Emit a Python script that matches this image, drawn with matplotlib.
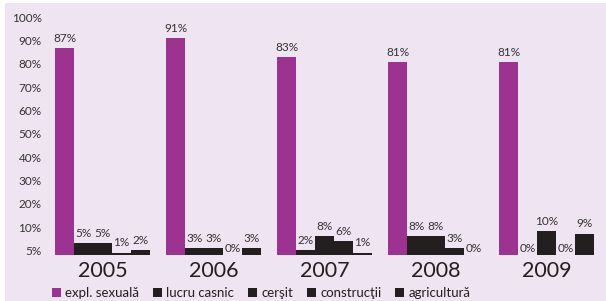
import numpy as np
import matplotlib
matplotlib.use('Agg')
import matplotlib.pyplot as plt
from matplotlib.patches import Patch, Rectangle

# data
years = ['2005', '2006', '2007', '2008', '2009']
categories = ['expl. sexuală', 'lucru casnic', 'cerşit', 'construcţii', 'agricultură']
expl_sexuala = [87, 91, 83, 81, 81]
lucru_casnic = [5, 3, 2, 8, 0]
cersit = [5, 3, 8, 8, 10]
constructii = [1, 0, 6, 3, 0]
agricultura = [2, 3, 1, 0, 9]
series = [expl_sexuala, lucru_casnic, cersit, constructii, agricultura]
ytick_labels = ['5%', '10%', '20%', '30%', '40%', '50%', '60%', '70%', '80%', '90%', '100%']

bg = '#EFE4F2'
purple = '#9C3391'
black = '#231F20'
txt = '#333333'
colors = [purple, black, black, black, black]

plt.rcParams['font.family'] = ['Lato', 'DejaVu Sans']
narrow = ['Liberation Sans Narrow', 'Lato', 'DejaVu Sans']

W, H = 606, 301
fig = plt.figure(figsize=(W / 100, H / 100), dpi=100)
fig.patch.set_facecolor('white')
fig.patches.append(Rectangle((5 / W, 0), 1, (H - 3) / H, transform=fig.transFigure,
                             facecolor=bg, edgecolor='none', zorder=-10))

ax = fig.add_axes([50 / W, (H - 255) / H, 550 / W, (255 - 17) / H])
ax.set_facecolor(bg)
for s in ax.spines.values():
    s.set_visible(False)

w = 0.171
x = np.arange(len(years))
for j, vals in enumerate(series):
    xs = x + (j - 2) * w
    ax.bar(xs, vals, width=w, color=colors[j], linewidth=0)
    for xi, vi in zip(xs, vals):
        off = 0.5 if vi == 0 else 3
        ax.annotate(f'{vi}%', (xi, vi), xytext=(0, off), textcoords='offset points',
                    ha='center', va='bottom', fontsize=8.5, color=txt, family=narrow)

ax.set_ylim(0, 100)
ax.set_xlim(-0.473, 4.482)
# the original spaces its labels evenly from the bottom ("5%") up to 100%
ax.set_yticks(np.linspace(1.8, 100, len(ytick_labels)))
ax.set_yticklabels(ytick_labels)
ax.set_xticks(x)
ax.set_xticklabels(years)
ax.tick_params(axis='y', length=0, pad=6, labelsize=8.5, labelcolor=txt)
ax.tick_params(axis='x', length=0, pad=4, labelsize=15.5, labelcolor='#231F20')

handles = [Patch(facecolor=c, edgecolor='none') for c in colors]
fig.legend(handles, categories, loc='center left', bbox_to_anchor=(52 / W, 8 / H),
           ncol=5, frameon=False, fontsize=9.5, handlelength=0.7, handleheight=0.7,
           handletextpad=0.3, columnspacing=1.05, borderaxespad=0, borderpad=0,
           labelcolor='#231F20')

fig.savefig('out.png', dpi=100, facecolor=fig.get_facecolor())
